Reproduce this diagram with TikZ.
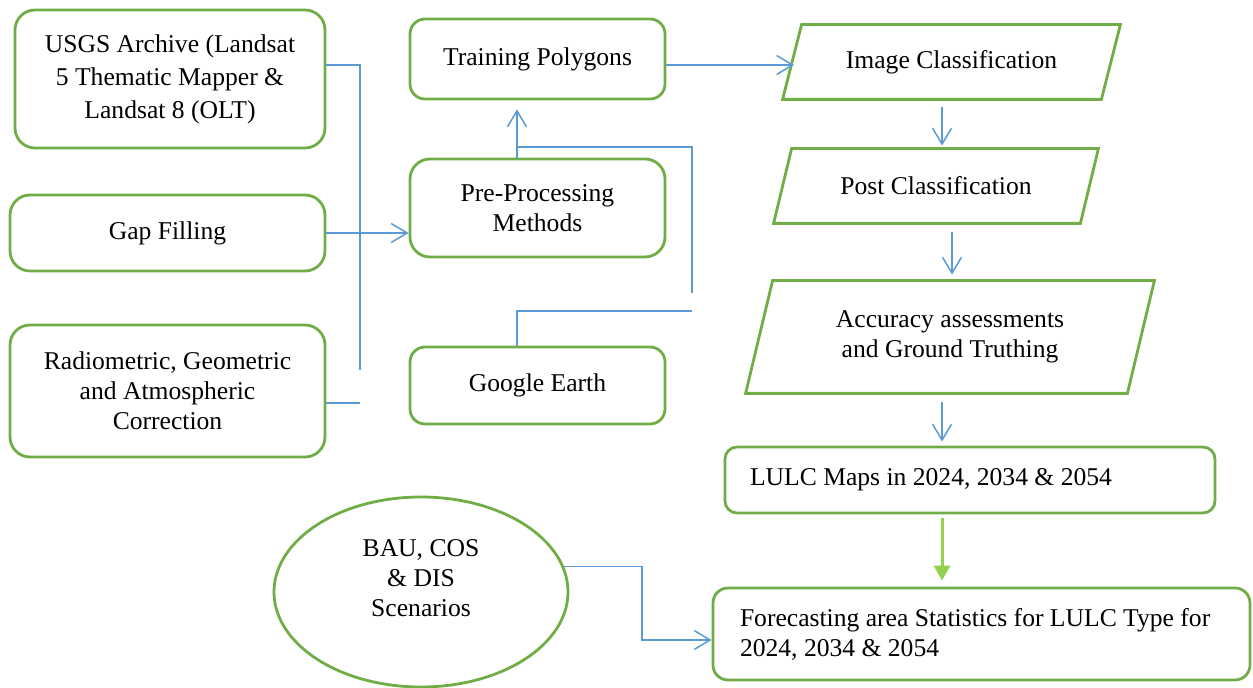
\documentclass[tikz,border=0pt]{standalone}
\usepackage{fontspec}
\setmainfont{Liberation Serif}
\usepackage{xcolor}
\definecolor{boxgreen}{RGB}{112,173,71}
\definecolor{linkblue}{RGB}{91,155,213}
\definecolor{flowgreen}{RGB}{146,208,80}
\usepackage{tikz}
\usetikzlibrary{
    shapes.geometric,
    arrows.meta,
    positioning,
    calc
}

\tikzset{
    stage/.style={draw=boxgreen,line width=1.4pt,rounded corners=10pt,align=center,
        inner sep=0pt,font=\fontsize{12.8}{15}\selectfont},
    dataio/.style={align=center,inner sep=0pt,font=\fontsize{12.8}{15}\selectfont},
    dataline/.style={draw=boxgreen,line width=1.4pt,line join=miter},
    scenario/.style={draw=boxgreen,line width=1.4pt,ellipse,align=center,
        inner sep=0pt,font=\fontsize{12.8}{15}\selectfont},
    link/.style={draw=linkblue,line width=0.75pt},
    linkarrow/.style={link,-{Straight Barb[length=8pt,width=9.5pt]}},
    flow/.style={draw=flowgreen,line width=1.5pt,-{Triangle[length=7.5pt,width=8pt]}}
}

% slanted outline round a data node: #1 name, #2 slant
\newcommand{\slantbox}[2]{%
    \draw[dataline] ($(#1.north west)+(#2,0)$) -- (#1.north east)
        -- ($(#1.south east)+(-#2,0)$) -- (#1.south west) -- cycle;}

\begin{document}
\begin{tikzpicture}[x=0.5pt,y=-0.5pt]
    \useasboundingbox (0,0) rectangle (1253,688);

    % input data
    \node[stage,minimum width=155pt,minimum height=69pt,font=\fontsize{12.8}{16.5}\selectfont]
        (usgs) at (170,79) {USGS Archive (Landsat\\5 Thematic Mapper \&\\Landsat 8 (OLT)};
    \node[stage,minimum width=157.5pt,minimum height=38pt] (gap) at (167.5,233) {Gap Filling};
    \node[stage,minimum width=157.5pt,minimum height=66pt] (radio) at (167.5,391)
        {Radiometric, Geometric\\and Atmospheric\\Correction};

    % middle column
    \node[stage,minimum width=127.5pt,minimum height=40pt,rounded corners=7.5pt] (train) at (537.5,59)
        {Training Polygons};
    \node[stage,minimum width=127.5pt,minimum height=49pt] (pre) at (537.5,208)
        {Pre-Processing\\Methods};
    \node[stage,minimum width=127.5pt,minimum height=38.5pt,rounded corners=7.5pt] (google) at (537.5,385.5)
        {Google Earth};

    % classification chain
    \node[dataio,minimum width=168.5pt,minimum height=37pt] (img) at (951.5,62) {Image Classification};
    \node[dataio,minimum width=162pt,minimum height=37pt] (post) at (936,186) {Post Classification};
    \node[dataio,minimum width=204pt,minimum height=56pt] (acc) at (950,337)
        {Accuracy assessments\\and Ground Truthing};
    \slantbox{img}{19}
    \slantbox{post}{18}
    \slantbox{acc}{27}
    \node[stage,minimum width=245pt,minimum height=33pt,rounded corners=6pt,align=flush left,
        inner xsep=12.5pt,text width=220pt] (lulc) at (970,480) {LULC Maps in 2024, 2034 \& 2054};
    \node[stage,minimum width=268.5pt,minimum height=46pt,rounded corners=7.5pt,align=flush left,
        inner xsep=13.5pt,text width=241.5pt] (fore) at (981.5,634)
        {Forecasting area Statistics for LULC Type for\\2024, 2034 \& 2054};

    \node[scenario,minimum width=147pt,minimum height=95pt,text depth=14pt] (bau) at (421,592)
        {BAU, COS\\\& DIS\\Scenarios};

    % bends
    \coordinate (busend) at (360,370);
    \coordinate (busstub) at (360,403);
    \coordinate (junc) at (517,147);
    \coordinate (loopend) at (692,293);
    \coordinate (geend) at (692,311);
    \coordinate (bend) at (642,640);

    % connectors
    \draw[link] ($(usgs.east)+(0,-14)$) -| (busend);
    \draw[link] (radio.east |- busstub) -- (busstub);
    \draw[linkarrow] (gap.east) -- (pre.west |- gap.east);
    \draw[linkarrow] (pre.north -| junc) -- ($(train.south -| junc)+(0,9)$);
    \draw[link] (junc) -| (loopend);
    \draw[link] (google.north -| junc) |- (geend);
    \draw[linkarrow] ($(train.east)+(0,6)$) -- ($(img.west)+(11.5,3)$);
    \draw[linkarrow] ($(img.south)+(-9.5,8)$) -- ($(post.north)+(6,-3)$);
    \draw[linkarrow] ($(post.south)+(16,9)$) -- ($(acc.north)+(2,-6)$);
    \draw[linkarrow] ($(acc.south)+(-8,9)$) -- ($(lulc.north)+(-28,-4)$);
    \draw[flow] ($(lulc.south)+(-28,4)$) -- ($(fore.north)+(-39.5,-6)$);
    \draw[linkarrow] (bau.10) -| (bend) -- (fore.west |- bend);
\end{tikzpicture}
\end{document}
